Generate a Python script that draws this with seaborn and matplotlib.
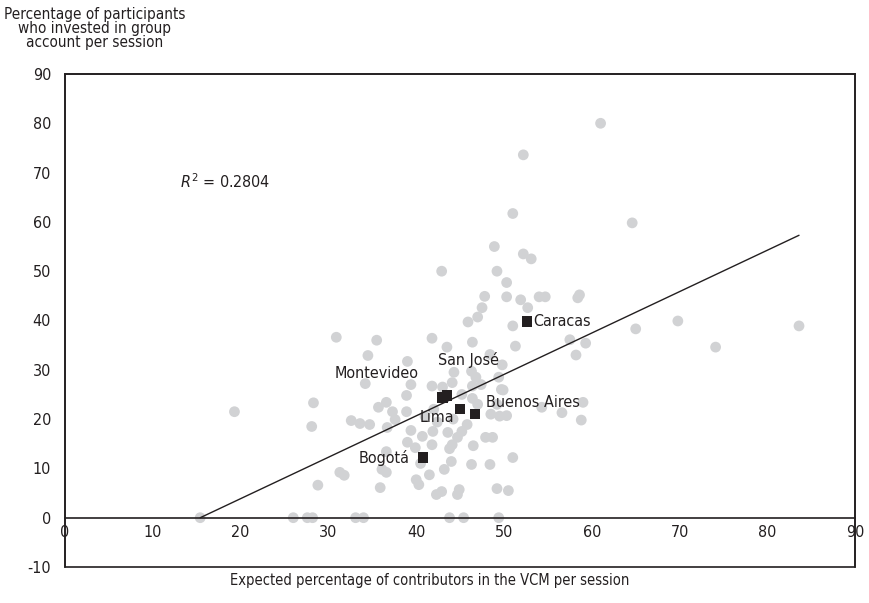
import numpy as np
import pandas as pd
import matplotlib
matplotlib.use("Agg")
import matplotlib.pyplot as plt
from matplotlib.patches import Rectangle
import seaborn as sns

sns.set_style("white")
plt.rcParams["font.family"] = ["DejaVu Sans"]
plt.rcParams["font.stretch"] = "condensed"
plt.rcParams["mathtext.fontset"] = "custom"
plt.rcParams["mathtext.it"] = "DejaVu Sans:italic"
plt.rcParams["mathtext.rm"] = "DejaVu Sans"
plt.rcParams["axes.unicode_minus"] = False

# ── data: sessions (expected % contributors vs % who invested) ────────────────
session_x = [
    15.4, 26.0, 27.6, 28.2, 33.1, 34.0, 43.8, 45.4, 49.4,
    19.3, 28.3, 28.1, 28.8, 31.3, 31.8, 30.9, 35.5, 34.5, 34.2,
    61.0, 52.2, 51.0, 64.6, 48.9, 52.2, 53.1, 42.9, 49.2, 50.3,
    47.8, 50.3, 51.9, 54.0, 54.7, 58.4, 58.6, 47.5, 52.7, 47.0,
    45.9, 51.0, 69.8, 65.0, 83.6, 74.1, 57.5, 59.3, 58.2, 51.3,
    49.8, 46.4, 43.5, 48.4,
    41.8, 39.0, 44.3, 46.3, 46.8, 47.4, 49.4, 49.7, 44.1, 46.4,
    45.2, 39.4, 38.9, 41.8, 36.6, 35.7, 37.3, 38.9, 32.6, 33.6,
    34.7, 36.7, 37.6, 39.4, 40.7, 41.8, 39.9, 36.6, 36.1, 36.6,
    35.9, 40.0, 40.3, 41.5, 42.3, 42.9, 44.9, 44.7, 49.2, 50.5,
    49.9, 49.2, 48.5, 50.3, 49.5, 56.6, 59.0, 58.8, 54.3, 46.4,
    45.2, 44.7, 44.1, 43.8, 47.9, 48.7, 46.5, 51.0, 44.0, 43.2,
    46.3, 48.4, 41.0, 42.4, 44.2, 45.8, 43.6, 41.9, 39.0, 43.0,
    42.0, 47.0, 40.5,
]
session_y = [
    0.0, 0.0, 0.0, 0.0, 0.0, 0.0, 0.0, 0.0, 0.0,
    21.5, 23.3, 18.5, 6.6, 9.2, 8.6, 36.6, 36.0, 32.9, 27.2,
    80.0, 73.6, 61.7, 59.8, 55.0, 53.5, 52.5, 50.0, 50.0, 47.7,
    44.9, 44.8, 44.2, 44.8, 44.8, 44.6, 45.2, 42.6, 42.6, 40.7,
    39.7, 38.9, 39.9, 38.3, 38.9, 34.6, 36.1, 35.4, 33.0, 34.8,
    31.0, 35.6, 34.6, 33.1,
    36.4, 31.7, 29.5, 29.7, 28.5, 27.0, 28.5, 26.0, 27.4, 26.7,
    25.0, 27.0, 24.8, 26.7, 23.4, 22.4, 21.5, 21.5, 19.7, 19.1,
    18.9, 18.3, 19.9, 17.7, 16.5, 14.8, 14.2, 13.4, 9.8, 9.2,
    6.1, 7.7, 6.7, 8.7, 4.7, 5.3, 5.7, 4.7, 5.9, 5.5,
    25.9, 23.0, 21.0, 20.7, 20.6, 21.3, 23.4, 19.8, 22.4, 24.2,
    17.5, 16.3, 14.8, 14.0, 16.3, 16.3, 14.6, 12.2, 11.4, 9.8,
    10.8, 10.8, 20.6, 19.4, 20.0, 18.9, 17.3, 17.5, 15.3, 26.5,
    22.0, 23.0, 11.0,
]

# ── capital cities highlighted ────────────────────────────────────────────────
cities = ["Caracas", "San José", "Montevideo", "Lima", "Buenos Aires", "Bogotá"]
city_x = [52.6, 43.5, 43.0, 45.0, 46.7, 40.8]
city_y = [39.8, 24.8, 24.4, 22.0, 21.1, 12.2]

# trendline (as printed in the source)
fit_slope = 0.840
fit_intercept = -12.94
r_squared = 0.2804

sessions = pd.DataFrame({"x": session_x, "y": session_y})
capitals = pd.DataFrame({"city": cities, "x": city_x, "y": city_y})

fig = plt.figure(figsize=(8.7, 6.03), dpi=100)
ax = fig.add_axes([0.0747, 0.0597, 0.9083, 0.8176])

sns.scatterplot(data=sessions, x="x", y="y", ax=ax, color="#d1d2d4",
                s=60, edgecolor="none", zorder=2)

trend_x = np.array([sessions["x"].min(), sessions["x"].max()])
sns.lineplot(x=trend_x, y=fit_slope * trend_x + fit_intercept, ax=ax,
             color="#231f20", linewidth=1.0, zorder=3)

sns.scatterplot(data=capitals, x="x", y="y", ax=ax, color="#231f20",
                marker="s", s=55, edgecolor="none", zorder=4)

# city labels
label_style = dict(fontsize=11.5, color="#231f20", zorder=5)
ax.text(53.3, 39.8, "Caracas", ha="left", va="center", **label_style)
ax.text(46.0, 31.9, "San José", ha="center", va="center", **label_style)
ax.text(40.3, 29.2, "Montevideo", ha="right", va="center", **label_style)
ax.text(42.3, 20.3, "Lima", ha="center", va="center", **label_style)
ax.text(48.0, 23.4, "Buenos Aires", ha="left", va="center", **label_style)
ax.text(39.2, 12.2, "Bogotá", ha="right", va="center", **label_style)

ax.text(13.1, 68.2, r"$\mathit{R}^{2}$" + f" = {r_squared:.4f}", ha="left",
        va="center", fontsize=11.5, color="#231f20")

# axes: x axis sits on y = 0, box drawn around the whole plot
ax.set_xlim(0, 90)
ax.set_ylim(-10, 90)
ax.set_xticks(range(0, 91, 10))
ax.set_yticks(range(-10, 91, 10))
ax.set_yticklabels([str(v) for v in range(-10, 91, 10)])
ax.set_xlabel("")
ax.set_ylabel("")
ax.spines["bottom"].set_position(("data", 0))
for side in ["top", "right", "left", "bottom"]:
    ax.spines[side].set_color("#231f20")
    ax.spines[side].set_linewidth(1.2)
ax.add_patch(Rectangle((0, 0), 1, 1, transform=ax.transAxes, fill=False,
                       edgecolor="#231f20", linewidth=1.2, clip_on=False, zorder=6))
ax.tick_params(axis="both", direction="in", length=5, width=1.0,
               colors="#231f20", labelsize=11.5)
ax.tick_params(axis="y", pad=10)
ax.tick_params(axis="x", pad=5)
ax.set_facecolor("white")

fig.text(0.109, 0.988, "Percentage of participants\nwho invested in group\naccount per session",
         ha="center", va="top", fontsize=11, linespacing=0.9, color="#231f20")
fig.text(0.494, 0.038, "Expected percentage of contributors in the VCM per session",
         ha="center", va="center", fontsize=10.5, color="#231f20")

fig.savefig("out.png", dpi=100)
